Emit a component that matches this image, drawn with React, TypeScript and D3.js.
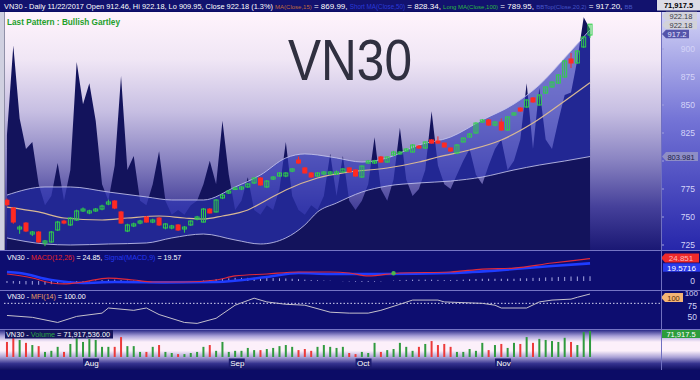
import React from "react";
import * as d3 from "d3";

// ---------------- DATA ----------------
const firstDay = "2017-07-14";
const lastDay = "2017-11-22";
const holidays = ["2017-09-04"];

const opens = [765.0,758.0,739.3,744.6,734.8,736.6,726.8,727.7,738.4,746.4,
742.9,747.3,755.4,753.6,755.4,757.1,761.6,764.3,754.5,737.5,
742.0,744.6,750.0,745.5,749.1,740.2,740.2,742.9,739.3,742.9,
748.2,745.5,757.1,754.5,767.0,771.4,775.0,775.0,776.8,780.4,
784.8,776.8,783.9,786.6,786.6,791.0,800.9,793.8,789.3,786.6,
788.4,788.4,788.4,790.2,793.8,792.0,785.7,798.2,798.2,803.6,
799.1,805.4,806.3,808.9,808.0,813.4,811.6,818.8,817.9,816.0,
811.6,807.1,817.0,821.4,825.0,834.8,836.6,832.1,834.8,827.7,
841.1,847.3,848.2,856.3,850.0,860.7,866.1,869.6,875.0,891.1,
887.5,901.8,912.46];
const closes = [761.0,745.5,741.0,737.5,736.6,727.7,728.6,736.6,745.5,744.6,
749.1,755.4,757.1,755.4,757.1,759.8,763.4,758.0,744.6,742.9,
743.8,746.4,745.5,747.3,742.9,743.8,742.0,738.4,741.0,746.4,
750.0,757.1,753.6,765.2,769.6,773.2,775.9,776.8,779.5,784.8,
778.6,782.1,785.7,789.3,789.3,792.9,798.2,789.3,785.7,789.3,
790.2,790.2,790.2,792.9,790.2,786.6,795.5,800.0,800.0,799.1,
803.6,808.0,808.0,810.7,814.3,811.6,817.0,816.0,816.0,812.5,
808.9,814.3,820.5,824.1,833.9,836.6,832.1,834.8,827.7,839.3,
842.9,844.6,854.5,852.7,858.9,866.1,870.5,876.8,889.3,887.5,
898.2,910.7,922.18];
const highs = [766.5,759.0,742.5,745.5,737.5,737.5,729.5,737.5,746.5,747.5,
750.0,756.5,758.5,756.5,758.0,761.0,765.5,765.0,755.5,744.0,
745.0,747.5,751.0,748.5,750.0,744.5,743.0,743.5,742.0,747.0,
751.0,758.0,758.0,766.0,770.5,774.0,777.0,777.5,780.5,785.5,
785.5,783.0,786.5,790.0,790.0,793.5,804.0,794.5,790.0,790.0,
791.0,791.0,791.5,793.5,794.5,792.5,796.0,800.9,801.0,804.5,
804.0,809.0,809.0,811.5,815.0,814.0,817.5,819.5,822.0,816.5,
812.0,815.0,821.0,825.0,834.5,837.5,837.5,835.5,838.0,840.0,
843.5,848.0,855.0,857.0,859.5,866.5,871.0,877.5,890.0,896.4,
899.0,911.5,922.18];
const lows = [759.5,744.0,735.0,736.5,733.0,727.0,724.0,727.0,737.5,743.5,
742.0,746.5,754.5,752.5,754.5,756.0,760.5,757.0,744.0,736.5,
741.0,743.5,745.0,744.5,742.0,739.0,739.0,737.5,736.0,742.0,
747.0,745.0,753.0,754.0,766.0,770.5,774.0,774.0,776.0,779.5,
778.0,776.0,783.0,786.0,785.5,790.0,797.5,789.0,785.0,786.0,
787.5,787.5,787.5,789.5,789.5,786.0,785.0,797.5,797.5,798.5,
798.5,804.5,805.5,808.0,807.5,811.0,811.0,815.5,815.5,812.0,
808.0,806.0,816.5,821.0,824.5,834.0,831.5,831.0,827.0,827.0,
840.5,844.0,847.5,852.0,849.5,860.0,865.5,869.0,874.5,883.0,
887.0,901.0,909.95];
// volume, millions
const volumes = [41.5,58,47,39,33,30,14,17,28,14,
36,58,41.5,50,47,28,28,28,55,30,
30,14,14,28,33,14,11,8,8,11,
14,28,33,17,41.5,14,17,17,25,19,
19,22,25,30,33,28,19,22,17,28,
33,28,25,28,11,8,14,11,39,14,
19,22,39,28,17,28,36,44,33,36,
28,14,14,22,17,39,19,33,36,25,
39,36,55,39,50,47,44,41.5,53,41.5,
33,69,71.9];
// dark overlay "mountain" series (0-100)
const overlay = [49,87,56,43,46,28,19,23,37,21,
34,80,62,71,55,28,21,36,74,34,
40,21,19,28,42,21,15,17,15,19,
21,28,38,28,55,32,17,21,31,17,
15,19,17,26,46,23,17,15,19,17,
23,41,23,40,21,17,21,28,48,26,
21,30,52,30,23,26,34,59,36,28,
26,32,38,43,32,28,36,43,47,34,
38,47,71,43,69,47,43,55,66,67,
81,99,94];

const bandIdx = [0,6,10,16,22,26,31,36,40,44,47,49,52,56,60,65,70,75,80,84,88,92];
const bandUpper = [769.6,776.8,776.8,772.3,767.9,765.2,765.2,776.8,787.5,802.7,806.3,805.4,802.7,799.1,802.7,814.3,821.4,836.6,850.9,867.9,892,917.2];
const bandLower = [731.3,725.9,725,725.9,726.8,731.3,734.8,729.5,725.9,731.3,742.9,754.5,762.5,772.3,777.7,780.4,782.1,785.7,792,796.4,800,803.98];

const maIdx = [0,5,9,15,19,24,28,31,34,38,41,44,49,54,60,65,68,73,78,83,88,92];
const maVal = [758.9,754.5,749.1,747.3,749.1,750.9,749.1,748.2,750.9,756.3,765.2,774.1,784.8,790.2,793.75,799.1,803.6,809.8,818.75,833.9,853.6,869.99];

const macdIdx = [0,4,7,9,12,16,20,23,28,33,36,41,46,51,54,57,62,70,75,80,86,91,92];
const macdVal = [7.8,3.3,-2.2,-3.3,-1.1,3.3,1.1,-1.1,-1.1,1.1,5.6,7.8,10,10,8.9,5.6,8.9,10,13.3,14.4,20,24,24.85];
const signalIdx = [0,2,7,12,17,25,33,41,46,51,59,70,80,86,92];
const signalVal = [10,8.9,1.1,-2.2,-1.1,-1.5,-1.1,4.4,8.9,7.8,7.8,8.9,13.3,16.7,19.57];
const hist = [-2.2,-2.8,-3.3,-3.8,-4,-4.2,-4,-3.5,-3,-2.5,
-2,-1.5,-1,-0.5,0.5,1,1.5,1.5,1,0.5,
0.5,0.3,-0.3,-0.5,-0.5,-0.6,-0.6,-0.5,-0.5,-0.3,
0,0.5,1,2,2.5,3,3.5,3.5,3.5,3.5,
3.5,3.5,3.2,3,2.8,2.5,2,1.5,1,0.8,
0.5,0.3,0,-0.3,-0.5,-0.8,-1,-1,-0.8,-0.5,
0,0.5,1,1.2,1.5,1.5,1.5,1.5,1.2,1,
1,1.2,1.5,2,2.2,2.5,2.5,2.5,2.5,2.5,
2.5,3,3,3.5,3.5,4,4,4.5,4.5,5,
5,5.2,5.28];
const macdMarkerIdx = [61];
const macdMarkerVal = [8.6];

const mfiIdx = [0,4,8,11,15,16,20,22,24,28,30,33,36,39,41,44,47,51,54,57,59,62,64,68,69,75,77,78,82,84,86,89,90,92];
const mfiVal = [54,50,39,52,59,70,65,70,56,39,37,48,76,91,83,78,76,61,59,59,65,78,87,87,83,80,76,70,70,83,87,89,93,100];

const priceTicks = [725,750,775,800,825,850,875,900];
const priceLabelTicks = [725,750,775,825,850,875,900];
const mfiTicks = [75,50];
const macdTicks = [0];

// ---------------- LAYOUT ----------------
const W = 700, H = 380;
const L = 4, R = 661;
const MAIN_T = 12, MAIN_B = 250;
const MACD_T = 251, MACD_B = 290;
const MFI_T = 291, MFI_B = 329;
const VOL_T = 330, VOL_B = 370;
const FONT = "'Liberation Sans', Arial, Helvetica, sans-serif";

const parse = d3.timeParse("%Y-%m-%d");
const fmt = d3.timeFormat("%Y-%m-%d");
const days = d3.timeDay
  .range(parse(firstDay)!, d3.timeDay.offset(parse(lastDay)!, 1))
  .filter((d) => d.getDay() !== 0 && d.getDay() !== 6 && !holidays.includes(fmt(d)));

const N = closes.length;
const x = d3.scaleBand<number>().domain(d3.range(N)).range([3.8, 593.2]);
const cx = (i: number) => (x(i) as number) + x.bandwidth() / 2;

const yP = d3.scaleLinear().domain([725, 850]).range([245, 105]);
const yO = d3.scaleLinear().domain([0, 100]).range([MAIN_B, 15]);
const yM = d3.scaleLinear().domain([0, 10]).range([281, 272]);
const yF = d3.scaleLinear().domain([25, 100]).range([MFI_B, 294]);
const yV = d3.scaleLinear().domain([0, 80]).range([357, 328]);

function tag(x0: number, yc: number, w: number, h: number, arrow: boolean) {
  const y0 = yc - h / 2, y1 = yc + h / 2;
  if (!arrow) return `M${x0},${y0}H${x0 + w}V${y1}H${x0}Z`;
  return `M${x0},${yc}L${x0 + 4},${y0}H${x0 + w}V${y1}H${x0 + 4}Z`;
}

export default function App() {
  const overlayArea = d3
    .area<number>()
    .x((_, i) => cx(i))
    .y0(MAIN_B)
    .y1((d) => yO(d))(overlay);

  const bandArea = d3
    .area<number>()
    .curve(d3.curveMonotoneX)
    .x((d) => cx(d))
    .y0((_, k) => yP(bandLower[k]))
    .y1((_, k) => yP(bandUpper[k]))(bandIdx);
  const lineIdx = (vals: number[], ys: (v: number) => number, curve = d3.curveMonotoneX) =>
    d3
      .line<number>()
      .curve(curve)
      .x((d) => cx(d))
      .y((_, k) => ys(vals[k]));
  const upperPath = lineIdx(bandUpper, yP)(bandIdx);
  const lowerPath = lineIdx(bandLower, yP)(bandIdx);
  const maPath = lineIdx(maVal, yP)(maIdx);
  const macdPath = lineIdx(macdVal, yM)(macdIdx);
  const sigPath = lineIdx(signalVal, yM)(signalIdx);
  const mfiPath = lineIdx(mfiVal, yF, d3.curveLinear)(mfiIdx);

  const months: { i: number; label: string }[] = [];
  for (let i = 1; i < days.length; i++) {
    if (days[i].getMonth() !== days[i - 1].getMonth())
      months.push({ i, label: d3.timeFormat("%b")(days[i]) });
  }

  const bw = 4;
  const green = "#2fd04a";
  const red = "#ff2a22";
  const pre = { whiteSpace: "pre" } as React.CSSProperties;

  return (
    <div style={{ position: "absolute", left: 0, top: 0 }}>
      <svg width={W} height={H} style={{ display: "block", fontFamily: FONT }}>
        <defs>
          <linearGradient id="mainBg" x1="0" y1="0" x2="0" y2="1">
            <stop offset="0" stopColor="#fff4fc" />
            <stop offset="0.2" stopColor="#f0e6f5" />
            <stop offset="0.42" stopColor="#c6bee2" />
            <stop offset="0.62" stopColor="#8a84c2" />
            <stop offset="0.82" stopColor="#45409a" />
            <stop offset="1" stopColor="#1a1874" />
          </linearGradient>
          <linearGradient id="axisBg" x1="0" y1="0" x2="0" y2="1">
            <stop offset="0" stopColor="#d4d4f6" />
            <stop offset="0.45" stopColor="#7474d6" />
            <stop offset="1" stopColor="#2626aa" />
          </linearGradient>
          <linearGradient id="volBg" x1="0" y1="0" x2="0" y2="1">
            <stop offset="0" stopColor="#2a2a88" />
            <stop offset="0.15" stopColor="#a8a0d8" />
            <stop offset="0.3" stopColor="#fcf0fa" />
            <stop offset="0.52" stopColor="#fcf0fa" />
            <stop offset="0.68" stopColor="#aaa2d6" />
            <stop offset="0.84" stopColor="#34328e" />
            <stop offset="1" stopColor="#0e0e60" />
          </linearGradient>
          <clipPath id="mainClip">
            <rect x={L} y={MAIN_T} width={R - L} height={MAIN_B - MAIN_T} />
          </clipPath>
        </defs>

        {/* global background */}
        <rect x={0} y={0} width={W} height={H} fill="#0c0c66" />

        {/* header */}
        <rect x={0} y={0} width={656} height={11} fill="#12126e" />
        <text x={4} y={8.5} style={pre} fill="#ffffff" fontSize={7.4}>
          <tspan>VN30 - Daily 11/22/2017 Open 912.46, Hi 922.18, Lo 909.95, Close 922.18 (1.3%) </tspan>
          <tspan fill="#c06a3c" fontSize={6}>MA(Close,15)</tspan>
          <tspan fontSize={8}> = 869.99, </tspan>
          <tspan fill="#2a3ad8" fontSize={6.3}>Short MA(Close,50)</tspan>
          <tspan fontSize={8}> = 828.34, </tspan>
          <tspan fill="#2ab844" fontSize={6}>Long MA(Close,100)</tspan>
          <tspan fontSize={8}> = 789.95, </tspan>
          <tspan fill="#4656c8" fontSize={6}>BBTop(Close,20,2)</tspan>
          <tspan fontSize={8}> = 917.20, </tspan>
          <tspan fill="#4656c8" fontSize={6}>BB</tspan>
        </text>

        {/* main panel */}
        <rect x={0} y={MAIN_T} width={L} height={MAIN_B - MAIN_T} fill="#d0d0e0" />
        <rect x={L} y={MAIN_T} width={R - L} height={MAIN_B - MAIN_T} fill="url(#mainBg)" />
        <rect x={R} y={MAIN_T} width={W - R} height={MAIN_B - MAIN_T} fill="url(#axisBg)" />

        <text x={7} y={25} fill="#23a02a" fontSize={8.5} fontWeight="bold" textLength={113} lengthAdjust="spacingAndGlyphs">
          Last Pattern : Bullish Gartley
        </text>
        <text x={288} y={80} fill="#303040" fontSize={58} textLength={124} lengthAdjust="spacingAndGlyphs">
          VN30
        </text>

        <g clipPath="url(#mainClip)">
          <path d={overlayArea || ""} fill="#13135c" />
          <path d={bandArea || ""} fill="#2c34b4" fillOpacity={0.62} />
          <path d={upperPath || ""} fill="none" stroke="#c4c4ec" strokeWidth={1} strokeOpacity={0.85} />
          <path d={lowerPath || ""} fill="none" stroke="#c4c4ec" strokeWidth={1} strokeOpacity={0.85} />
          <path d={maPath || ""} fill="none" stroke="#d8b894" strokeWidth={1.2} />
          {closes.map((c, i) => {
            const o = opens[i];
            const up = c >= o;
            const col = up ? green : red;
            const top = yP(Math.max(o, c));
            const bot = yP(Math.min(o, c));
            const xc = cx(i);
            return (
              <g key={i}>
                <line x1={xc} x2={xc} y1={yP(highs[i])} y2={yP(lows[i])} stroke={col} strokeWidth={1} />
                <rect
                  x={xc - bw / 2}
                  y={top}
                  width={bw}
                  height={Math.max(1.5, bot - top)}
                  fill={up ? "none" : col}
                  stroke={col}
                  strokeWidth={1}
                />
              </g>
            );
          })}
        </g>

        {/* main axis */}
        {priceTicks.map((t) => (
          <line key={t} x1={R} x2={R + 3} y1={yP(t)} y2={yP(t)} stroke="#a0a0dc" />
        ))}
        {priceLabelTicks.map((t) => (
          <text key={t} x={695} y={yP(t) + 3} textAnchor="end" fontSize={8.5} fill="#d4d4f8">
            {t}
          </text>
        ))}
        <rect x={657} y={0} width={43} height={10.5} fill="#dcdce6" />
        <text x={678.5} y={8.3} textAnchor="middle" fontSize={7.5} fontWeight="bold" fill="#000000">
          71,917.5
        </text>
        <path d={tag(662, 16, 35, 8.5, true)} fill="#d2d2da" />
        <text x={681} y={19} textAnchor="middle" fontSize={7.5} fill="#3a3a46">922.18</text>
        <path d={tag(662, 25, 35, 8.5, true)} fill="#d2d2da" />
        <text x={681} y={28} textAnchor="middle" fontSize={7.5} fill="#3a3a46">922.18</text>
        <path d={tag(662, 34, 27, 8.5, true)} fill="#5454aa" />
        <text x={677} y={37} textAnchor="middle" fontSize={7.5} fill="#e8e8ff">917.2</text>
        <path d={tag(662, yP(803.98), 36, 9, true)} fill="#8e8ec6" />
        <text x={681} y={yP(803.98) + 3} textAnchor="middle" fontSize={7.5} fill="#1c1c48">803.981</text>

        {/* MACD panel */}
        <rect x={0} y={MACD_T} width={W} height={MACD_B - MACD_T} fill="#0d0d70" />
        {hist.map((h, i) => (
          <line key={i} x1={cx(i)} x2={cx(i)} y1={yM(0)} y2={yM(h)} stroke="#a8a8e2" strokeWidth={1} />
        ))}
        <path d={sigPath || ""} fill="none" stroke="#1e3cff" strokeWidth={2.6} />
        <path d={macdPath || ""} fill="none" stroke="#e02a3a" strokeWidth={1.2} />
        {macdMarkerIdx.map((m, k) => (
          <circle key={k} cx={cx(m)} cy={yM(macdMarkerVal[k])} r={2.2} fill="#4cb848" />
        ))}
        <text x={7} y={260} style={pre} fill="#ffffff" fontSize={7.1}>
          <tspan>VN30 - </tspan>
          <tspan fill="#e82424">MACD(12,26)</tspan>
          <tspan> = 24.85, </tspan>
          <tspan fill="#2438f0">Signal(MACD,9)</tspan>
          <tspan> = 19.57</tspan>
        </text>
        {macdTicks.map((t) => (
          <text key={t} x={695} y={yM(t) + 3} textAnchor="end" fontSize={8.5} fill="#d4d4f8">
            {t}
          </text>
        ))}
        <path d={tag(661, 258, 38, 9, true)} fill="#ee2a2a" />
        <text x={681} y={261} textAnchor="middle" fontSize={8} fill="#ffb8b8">24.851</text>
        <path d={tag(663, 267.5, 37, 8.5, false)} fill="#2a3aea" />
        <text x={681.5} y={270.5} textAnchor="middle" fontSize={8} fill="#ffffff">19.5716</text>

        {/* MFI panel */}
        <rect x={0} y={MFI_T} width={W} height={MFI_B - MFI_T} fill="#0d0d70" />
        <line x1={L} x2={R} y1={yF(80)} y2={yF(80)} stroke="#d8d8f4" strokeDasharray="1.5,2" />
        <path d={mfiPath || ""} fill="none" stroke="#c4c0cc" strokeWidth={1} />
        <text x={7} y={299} style={pre} fill="#ffffff" fontSize={7.1}>
          <tspan>VN30 - </tspan>
          <tspan fill="#eaa060">MFI(14)</tspan>
          <tspan> = 100.00</tspan>
        </text>
        {mfiTicks.map((t) => (
          <text key={t} x={697} y={yF(t) + 3} textAnchor="end" fontSize={8.5} fill="#d4d4f8">
            {t}
          </text>
        ))}
        <text x={698} y={296} textAnchor="end" fontSize={8} fill="#d4d4f8">100</text>
        <path d={tag(661, 297.5, 22, 9, true)} fill="#f4b474" />
        <text x={673.5} y={300.5} textAnchor="middle" fontSize={7.5} fill="#5a2a06">100</text>

        {/* Volume panel */}
        <rect x={0} y={VOL_T} width={W} height={VOL_B - VOL_T} fill="url(#volBg)" />
        {volumes.map((v, i) => (
          <rect
            key={i}
            x={cx(i) - 1}
            y={yV(v)}
            width={2}
            height={yV(0) - yV(v)}
            fill={closes[i] >= opens[i] ? "#2f9a3e" : "#ec3a3a"}
          />
        ))}
        <rect x={5} y={330} width={108} height={8.5} fill="#14145c" />
        <text x={6} y={337} style={pre} fill="#ffffff" fontSize={7.3}>
          <tspan>VN30 - </tspan>
          <tspan fill="#2aa844">Volume</tspan>
          <tspan> = 71,917,536.00</tspan>
        </text>
        <path d={tag(662, 334, 38, 8, false)} fill="#2c9c3c" />
        <text x={681} y={337} textAnchor="middle" fontSize={7.5} fill="#ffffff">71,917.5</text>
        {months.map((m) => (
          <g key={m.label}>
            <rect x={cx(m.i)} y={358.5} width={16} height={9} fill="#1c1c70" />
            <text x={cx(m.i) + 1.5} y={366} fontSize={8} fill="#ffffff">
              {m.label}
            </text>
          </g>
        ))}

        {/* separators */}
        <line x1={0} x2={W} y1={250.5} y2={250.5} stroke="#7474c4" />
        <line x1={0} x2={W} y1={290.5} y2={290.5} stroke="#7474c4" />
        <line x1={0} x2={W} y1={329.5} y2={329.5} stroke="#7474c4" />
        <line x1={R + 0.5} x2={R + 0.5} y1={MAIN_T} y2={VOL_B} stroke="#7070c0" />
        <line x1={L + 0.5} x2={L + 0.5} y1={MAIN_T} y2={MAIN_B} stroke="#9090a8" />
      </svg>
    </div>
  );
}
